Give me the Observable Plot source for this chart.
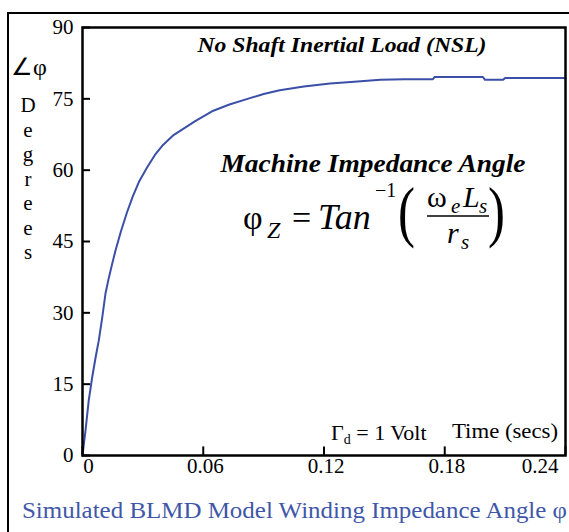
<!DOCTYPE html>
<html><head><meta charset="utf-8">
<script src="https://cdn.jsdelivr.net/npm/d3@7"></script>
<script src="https://cdn.jsdelivr.net/npm/@observablehq/plot@0.6"></script>
<style>
html,body{margin:0;padding:0;background:#fff;width:569px;height:532px;overflow:hidden;}
#wrap{position:relative;width:569px;height:532px;font-family:'Liberation Serif';}
#border{position:absolute;left:7px;top:12px;width:700px;height:700px;border:2px solid #000;box-sizing:border-box;}
#chart{position:absolute;left:0;top:0;}
#ann{position:absolute;left:0;top:0;pointer-events:none;}
#ann text{font-family:'Liberation Serif';}
.it{font-style:italic;}
.bi{font-style:italic;font-weight:bold;}
</style>
</head><body>
<div id="wrap">
<div id="border"></div>
<div id="chart"></div>
<svg id="ann" width="569" height="532" fill="#000">
  <text class="bi" x="342" y="52" text-anchor="middle" font-size="21" textLength="289" lengthAdjust="spacingAndGlyphs">No Shaft Inertial Load (NSL)</text>
  <text x="11" y="75" font-size="24">∠φ</text>
  <text font-size="21" text-anchor="middle">
    <tspan x="28" y="112">D</tspan><tspan x="28" y="137">e</tspan><tspan x="28" y="161">g</tspan><tspan x="28" y="186">r</tspan><tspan x="28" y="210">e</tspan><tspan x="28" y="235">e</tspan><tspan x="28" y="259">s</tspan>
  </text>
  <text class="bi" x="373" y="172" text-anchor="middle" font-size="25" textLength="305" lengthAdjust="spacingAndGlyphs">Machine Impedance Angle</text>
  <!-- formula -->
  <text x="243" y="229" font-size="34">φ</text>
  <text class="it" x="267" y="238" font-size="24">Z</text>
  <text x="292" y="229" font-size="34">=</text>
  <text class="it" x="318" y="229" font-size="36">Tan</text>
  <text x="375" y="197" font-size="20">−1</text>
  <text x="398" y="234" font-size="68" transform="translate(398,0) scale(0.75,1) translate(-398,0)">(</text>
  <text x="427" y="207" font-size="30">ω</text>
  <text class="it" x="451" y="213" font-size="21">e</text>
  <text class="it" x="463" y="207" font-size="30">L</text>
  <text class="it" x="479" y="213" font-size="21">s</text>
  <line x1="427" x2="489" y1="216" y2="216" stroke="#000" stroke-width="1.5"/>
  <text class="it" x="447" y="243" font-size="30">r</text>
  <text class="it" x="461" y="249" font-size="21">s</text>
  <text x="488" y="234" font-size="68" transform="translate(488,0) scale(0.75,1) translate(-488,0)">)</text>
  <text x="331" y="440" font-size="22">Γ<tspan font-size="14" dy="4">d</tspan><tspan dy="-4"> = 1 Volt</tspan></text>
  <text x="452" y="438" font-size="22" textLength="106" lengthAdjust="spacingAndGlyphs">Time (secs)</text>
  <text x="22" y="518" font-size="24" fill="#3f57a8" textLength="545" lengthAdjust="spacingAndGlyphs">Simulated BLMD Model Winding Impedance Angle φ</text>
</svg>
</div>
<script>
const time  = [0, 0.0015, 0.0031, 0.0048, 0.0065, 0.0081, 0.0098, 0.0114, 0.0131, 0.0148, 0.0164, 0.019, 0.022, 0.025, 0.028, 0.032, 0.036, 0.040, 0.045, 0.0487, 0.056, 0.065, 0.073, 0.082, 0.090, 0.098, 0.110, 0.123, 0.135, 0.148, 0.160, 0.174, 0.175, 0.199, 0.200, 0.209, 0.210, 0.240];
const angle = [0, 5.3, 11.6, 16.4, 20.6, 24.2, 29.0, 34.0, 37.4, 40.4, 43.1, 47.0, 51.0, 54.5, 57.5, 60.5, 63.2, 65.3, 67.3, 68.3, 70.3, 72.5, 73.8, 75.0, 76.0, 76.8, 77.6, 78.2, 78.6, 79.0, 79.1, 79.1, 79.6, 79.6, 79.0, 79.0, 79.4, 79.4];
const xTicks = [0, 0.06, 0.12, 0.18, 0.24];
const yTicks = [0, 15, 30, 45, 60, 75, 90];
const data = time.map((t, i) => ({t, a: angle[i]}));

const chart = Plot.plot({
  width: 569, height: 532,
  marginLeft: 82, marginRight: 4, marginTop: 27, marginBottom: 77,
  style: {fontFamily: "'Liberation Serif'", fontSize: "21px", background: "transparent", color: "#000"},
  x: {domain: [0, 0.24]},
  y: {domain: [0, 90]},
  marks: [
    Plot.line(data, {x: "t", y: "a", stroke: "#3b4fa8", strokeWidth: 2}),
    Plot.frame({stroke: "#000", strokeWidth: 2.5}),
    Plot.ruleX(xTicks, {y1: 0, y2: 1.8, stroke: "#000", strokeWidth: 2}),
    Plot.ruleY(yTicks, {x1: 0, x2: 0.004, stroke: "#000", strokeWidth: 2}),
    Plot.axisX([0], {tickSize: 0, tickPadding: 3, label: null, dx: 6, tickFormat: d => "0"}),
    Plot.axisX(xTicks.slice(1, 4), {tickSize: 0, tickPadding: 3, label: null, dx: 2}),
    Plot.axisX(xTicks.slice(4), {tickSize: 0, tickPadding: 3, label: null, textAnchor: "end", dx: -7}),
    Plot.axisY(yTicks, {tickSize: 0, tickPadding: 9, label: null})
  ]
});
document.getElementById("chart").appendChild(chart);
</script>
</body></html>
